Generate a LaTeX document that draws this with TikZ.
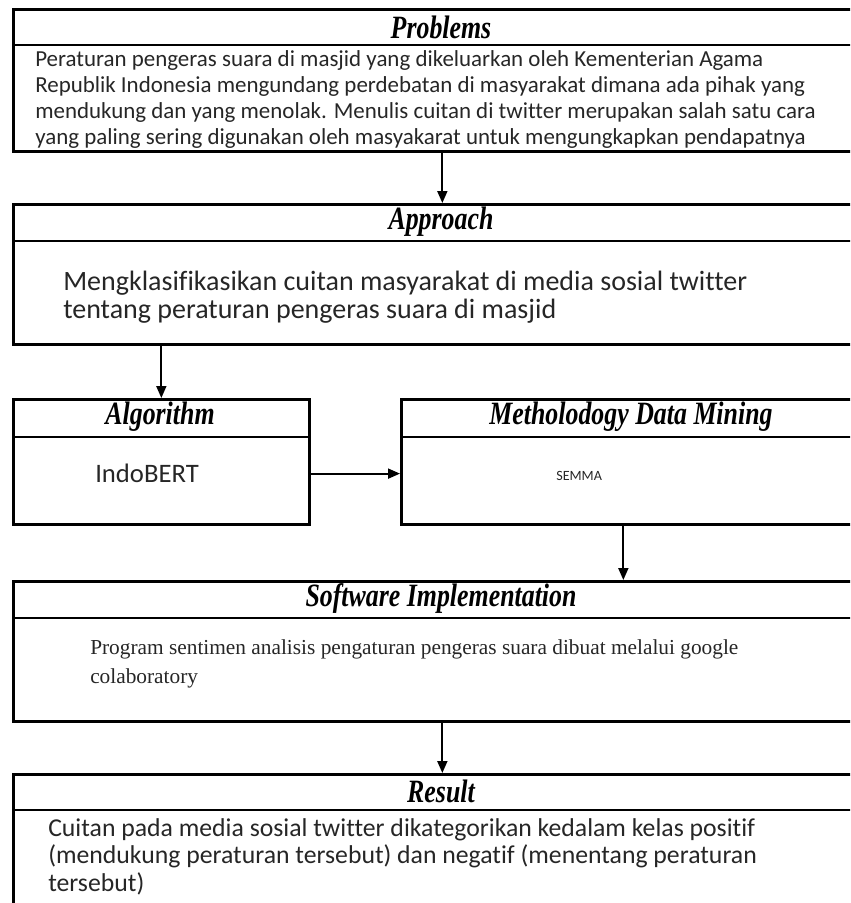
\documentclass[tikz,border=0pt]{standalone}
\usepackage{graphicx}
\usepackage{fontspec}
\setmainfont{Liberation Serif}
\newfontfamily\calibfont[Ligatures=NoCommon]{Carlito}
\usetikzlibrary{arrows.meta, calc}
\newcommand{\talltitle}[1]{\scalebox{0.97}[1.22]{#1}}

\begin{document}
\begin{tikzpicture}[
    x=0.75pt, y=-0.75pt,
    >={Triangle[length=9pt,width=7.5pt]},
    box/.style={draw, line width=2pt, anchor=north west, inner sep=0pt,
                minimum width=858*0.75pt},
    sepline/.style={line width=2pt},
    title/.style={font=\fontsize{20}{24}\selectfont\bfseries\itshape},
    body/.style={anchor=north west, inner sep=0pt, align=left, text=black!85},
    flow/.style={->, line width=1.4pt},
]
\useasboundingbox (0,0) rectangle (850,903);
\clip (0,0) rectangle (850,903);
% the boxes run off the right edge (and the last one off the bottom)
\node[box, minimum height=142*0.75pt] (prob) at (12,8) {};
\node[box, minimum height=140*0.75pt] (appr) at (12,203) {};
\node[box, minimum width=296*0.75pt, minimum height=125*0.75pt] (algo) at (12,398) {};
\node[box, minimum width=470*0.75pt, minimum height=125*0.75pt] (meth) at (400,398) {};
\node[box, minimum height=140*0.75pt] (soft) at (12,580) {};
\node[box, minimum height=150*0.75pt] (res) at (12,773) {};
% title rows
\draw[sepline] (12,45) -- (870,45);
\draw[sepline] (12,241) -- (870,241);
\draw[sepline] (12,437) -- (308,437);
\draw[sepline] (400,437) -- (870,437);
\draw[sepline] (12,618) -- (870,618);
\draw[sepline] (12,810) -- (870,810);
\node[title] (probT) at (441,27) {\talltitle{Problems}};
\node[title] (apprT) at (441,222) {\talltitle{Approach}};
\node[title] (algoT) at (160,417) {\talltitle{Algorithm}};
\node[title] (methT) at (631,417) {\talltitle{Metholodogy Data Mining}};
\node[title] (softT) at (441,599) {\talltitle{Software Implementation}};
\node[title] (resT) at (441,791) {\talltitle{Result}};
% box contents
\node[body, font=\calibfont\fontsize{17.2}{19.5}\selectfont] (probX) at (35,50)
   {Peraturan pengeras suara di masjid yang dikeluarkan oleh Kementerian Agama\\
    Republik Indonesia mengundang perdebatan di masyarakat dimana ada pihak yang\\
    mendukung dan yang menolak. Menulis cuitan di twitter merupakan salah satu cara\\
    yang paling sering digunakan oleh masyakarat untuk mengungkapkan pendapatnya};
\node[body, font=\calibfont\fontsize{21}{21}\selectfont] (apprX) at (63,271)
   {Mengklasifikasikan cuitan masyarakat di media sosial twitter\\
    tentang peraturan pengeras suara di masjid};
\node[body, font=\calibfont\fontsize{20}{21}\selectfont] (indo) at (95,464) {IndoBERT};
\node[body, font=\calibfont\fontsize{10.6}{12}\selectfont] (semma) at (556,471) {SEMMA};
\node[body, font=\fontsize{16}{21.75}\selectfont] (softX) at (90,639)
   {Program sentimen analisis pengaturan pengeras suara dibuat melalui google\\
    colaboratory};
\node[body, font=\calibfont\fontsize{19.3}{20.6}\selectfont] (resX) at (48,818)
   {Cuitan pada media sosial twitter dikategorikan kedalam kelas positif\\
    (mendukung peraturan tersebut) dan negatif (menentang peraturan\\
    tersebut)};
% flow
\draw[flow] (prob.south) -- (appr.north);
\draw[flow] (appr.south -| algo.north) -- (algo.north);
\draw[flow] (indo.west -| algo.east) -- (indo.west -| meth.west);
\draw[flow] ([xshift=-9.75pt]meth.south) -- ([xshift=-9.75pt]meth.south |- soft.north);
\draw[flow] (soft.south) -- (res.north);
\end{tikzpicture}
\end{document}
